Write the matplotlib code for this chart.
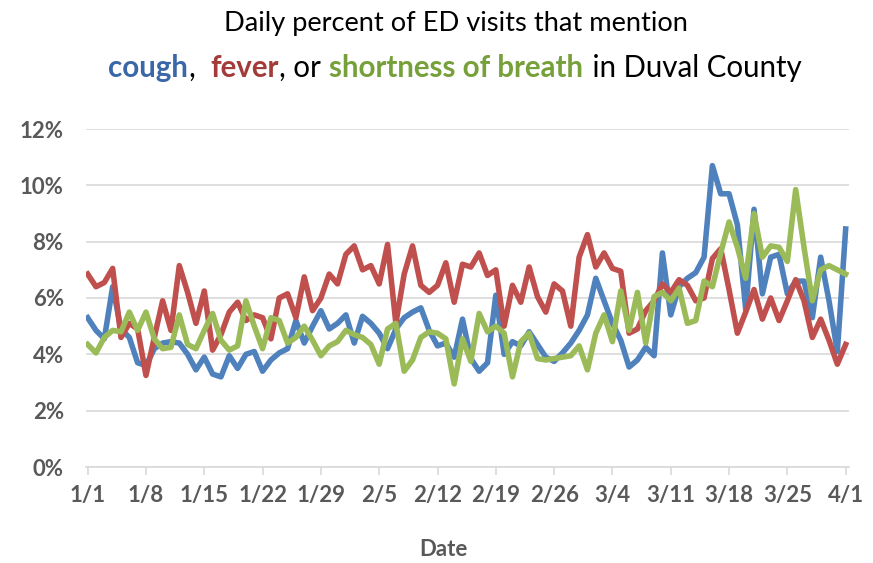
import matplotlib
matplotlib.use("Agg")
import matplotlib.pyplot as plt
import pandas as pd
from matplotlib.ticker import FuncFormatter

dates = pd.date_range("2020-01-01", "2020-04-01", freq="D")

cough = [5.3, 4.85, 4.55, 6.4, 4.9, 4.6, 3.7, 3.6, 4.2, 4.4,
         4.45, 4.4, 4.0, 3.45, 3.9, 3.3, 3.2, 3.95, 3.5, 4.0,
         4.1, 3.4, 3.8, 4.05, 4.2, 5.2, 4.4, 5.0, 5.55, 4.9,
         5.1, 5.4, 4.4, 5.35, 5.1, 4.75, 4.2, 4.9, 5.3, 5.5,
         5.65, 4.85, 4.3, 4.4, 3.9, 5.25, 3.85, 3.4, 3.7, 6.1,
         4.0, 4.45, 4.3, 4.8, 4.35, 3.9, 3.75, 4.05, 4.4, 4.85,
         5.4, 6.7, 5.9, 5.1, 4.5, 3.55, 3.8, 4.25, 3.95, 7.6,
         5.4, 6.4, 6.7, 6.9, 7.45, 10.7, 9.7, 9.7, 8.6, 5.6,
         9.15, 6.15, 7.45, 7.55, 6.15, 6.6, 6.6, 5.3, 7.45, 5.9,
         4.1, 8.45]

fever = [6.85, 6.4, 6.55, 7.05, 4.6, 5.1, 4.9, 3.25, 4.6, 5.9,
         4.85, 7.15, 6.2, 5.1, 6.25, 4.15, 4.7, 5.5, 5.85, 5.2,
         5.4, 5.3, 4.55, 6.0, 6.15, 5.3, 6.75, 5.55, 6.0, 6.85,
         6.5, 7.55, 7.85, 7.0, 7.15, 6.5, 7.9, 5.1, 6.85, 7.85,
         6.45, 6.2, 6.45, 7.25, 5.85, 7.2, 7.1, 7.6, 6.8, 7.0,
         5.0, 6.45, 5.85, 7.1, 6.05, 5.5, 6.5, 6.25, 5.0, 7.45,
         8.25, 7.1, 7.6, 7.05, 6.95, 4.75, 4.9, 5.55, 5.9, 6.5,
         6.2, 6.65, 6.45, 5.9, 6.0, 7.4, 7.75, 6.3, 4.75, 5.5,
         6.3, 5.25, 6.0, 5.2, 5.9, 6.65, 5.9, 4.6, 5.25, 4.5,
         3.65, 4.35]

breath = [4.35, 4.05, 4.6, 4.85, 4.8, 5.5, 4.85, 5.5, 4.55, 4.2,
          4.25, 5.4, 4.35, 4.2, 4.85, 5.45, 4.5, 4.15, 4.3, 5.9,
          5.0, 4.2, 5.3, 5.2, 4.4, 4.6, 5.0, 4.5, 3.95, 4.3,
          4.45, 4.85, 4.7, 4.6, 4.35, 3.65, 4.9, 5.1, 3.4, 3.8,
          4.6, 4.8, 4.75, 4.55, 2.95, 4.55, 3.75, 5.45, 4.8, 5.0,
          4.75, 3.2, 4.45, 4.75, 3.85, 3.8, 3.85, 3.9, 3.95, 4.3,
          3.45, 4.75, 5.4, 4.45, 6.25, 4.85, 6.2, 4.4, 6.05, 6.2,
          5.9, 6.35, 5.1, 5.2, 6.6, 6.4, 7.6, 8.7, 7.8, 6.7,
          9.0, 7.45, 7.85, 7.8, 7.3, 9.85, 7.8, 5.9, 7.0, 7.15,
          7.0, 6.85]

tick_labels = ["1/1", "1/8", "1/15", "1/22", "1/29", "2/5", "2/12",
               "2/19", "2/26", "3/4", "3/11", "3/18", "3/25", "4/1"]
y_ticks = [0, 2, 4, 6, 8, 10, 12]

BLUE = "#4F81BD"
RED = "#C0504D"
GREEN = "#9BBB59"
GRID = "#D9D9D9"
LABEL = "#595959"
FONT = ["Lato", "DejaVu Sans"]

W, H = 873, 563
fig = plt.figure(figsize=(W / 100, H / 100), dpi=100)
ax = fig.add_axes([86 / W, (H - 467) / H, (849 - 86) / W, (467 - 129) / H])

x = list(range(len(dates)))
ax.plot(x, cough, color=BLUE, lw=4.0, solid_joinstyle="round", zorder=3)
ax.plot(x, fever, color=RED, lw=4.0, solid_joinstyle="round", zorder=3)
ax.plot(x, breath, color=GREEN, lw=4.0, solid_joinstyle="round", zorder=4)

ax.set_xlim(-0.2, 91.4)
ax.set_ylim(0, 12)
ax.set_yticks(y_ticks)
ax.yaxis.set_major_formatter(FuncFormatter(lambda v, p: f"{int(v)}%"))
ax.grid(axis="y", color=GRID, lw=1.2)
ax.set_axisbelow(True)
for s in ["top", "right", "left"]:
    ax.spines[s].set_visible(False)
ax.spines["bottom"].set_color(GRID)
ax.spines["bottom"].set_linewidth(1.2)

tick_pos = [i for i in range(0, len(dates), 7)]
ax.set_xticks(tick_pos)
ax.set_xticklabels(tick_labels[:len(tick_pos)])
ax.tick_params(axis="x", length=6, width=1.2, color=GRID, pad=7,
               labelsize=16, labelcolor=LABEL)
ax.tick_params(axis="y", length=0, pad=16, labelsize=16, labelcolor=LABEL)
for lab in ax.get_xticklabels() + ax.get_yticklabels():
    lab.set_family(FONT)
    lab.set_fontweight("bold")

fig.text(443 / W, 1 - 550 / H, "Date", ha="center", va="center",
         fontsize=16, fontweight="bold", color=LABEL, family=FONT)

renderer = fig.canvas.get_renderer()

# Title line 1, fitted to the reference extent
t1 = fig.text(224 / W, 1 - 24 / H, "Daily percent of ED visits that mention",
              ha="left", va="center", fontsize=17, color="black", family=FONT)
w1 = t1.get_window_extent(renderer=renderer).width
t1.set_fontsize(17 * (689 - 224) / w1)

# Title line 2: coloured segments laid out in sequence, centred
parts = [("cough", "#3A67A8", "bold"), (",  ", "black", "normal"),
         ("fever", "#A33B3A", "bold"), (", or ", "black", "normal"),
         ("shortness of breath", "#76A03A", "bold"),
         (" in Duval County", "black", "normal")]
size2 = 20.5
texts, widths = [], []
for s, c, w in parts:
    t = fig.text(0, 1 - 68 / H, s, ha="left", va="center", fontsize=size2,
                 color=c, fontweight=w, family=FONT)
    texts.append(t)
    widths.append(t.get_window_extent(renderer=renderer).width)
total = sum(widths)
target = 803 - 108
scale = target / total
for t in texts:
    t.set_fontsize(size2 * scale)
xpos = 108.0
for t, wd in zip(texts, widths):
    t.set_x(xpos / W)
    xpos += wd * scale

fig.savefig("out.png", dpi=100)
